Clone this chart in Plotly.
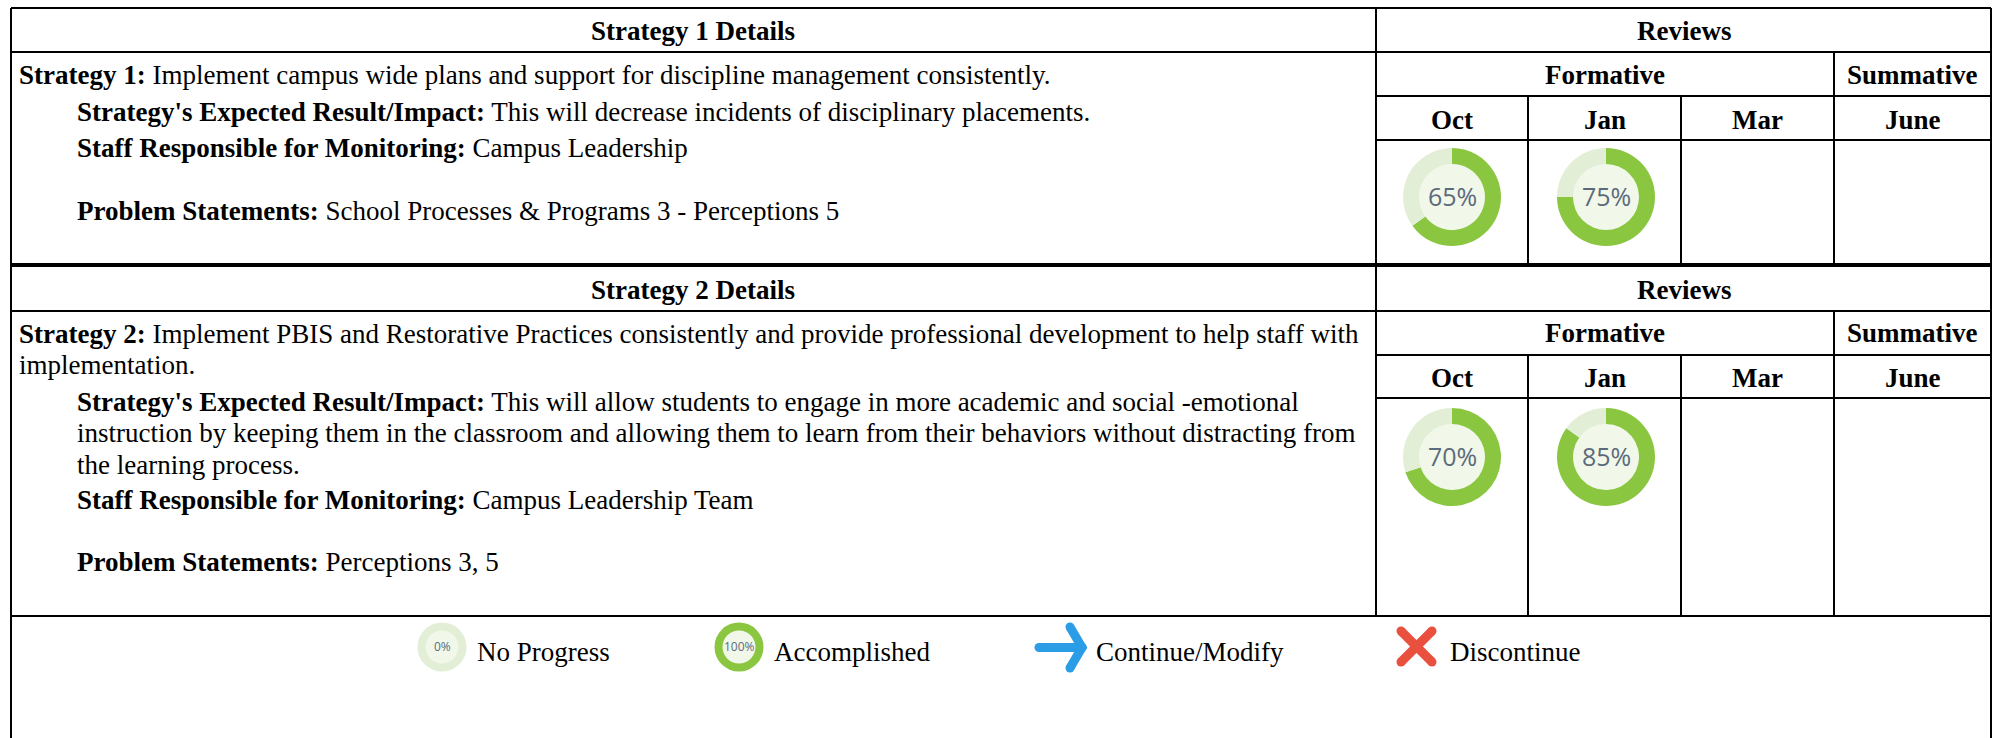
import plotly.graph_objects as go

# ---------- content ----------
months = ["Oct", "Jan", "Mar", "June"]
strategy1_progress = [65, 75]
strategy2_progress = [70, 85]
legend_progress = [0, 100]
legend_labels = ["No Progress", "Accomplished", "Continue/Modify", "Discontinue"]

strategy1_lines = [
    "<b>Strategy 1:</b> Implement campus wide plans and support for discipline management consistently.",
    "<b>Strategy's Expected Result/Impact:</b> This will decrease incidents of disciplinary placements.",
    "<b>Staff Responsible for Monitoring:</b> Campus Leadership",
    "<b>Problem Statements:</b> School Processes &amp; Programs 3 - Perceptions 5",
]
strategy2_lines = [
    "<b>Strategy 2:</b> Implement PBIS and Restorative Practices consistently and provide professional development to help staff with",
    "implementation.",
    "<b>Strategy's Expected Result/Impact:</b> This will allow students to engage in more academic and social -emotional",
    "instruction by keeping them in the classroom and allowing them to learn from their behaviors without distracting from",
    "the learning process.",
    "<b>Staff Responsible for Monitoring:</b> Campus Leadership Team",
    "<b>Problem Statements:</b> Perceptions 3, 5",
]

# ---------- layout constants ----------
W, H = 1993, 738
SERIF = "Liberation Serif"
FS = 27
GREEN, PALE, HOLE = "#8AC63F", "#E2EFD6", "#F1F8EA"
BLUE, RED = "#2B9CE6", "#E9503E"
L, R = 11, 1991
C0, C1, C2, C3 = 1376, 1528, 1681, 1834

hl = [  # y, x0, x1, width
    (8, L, R, 2), (52, L, R, 2), (96, C0, R, 2), (140, C0, R, 2), (265, L, R, 4),
    (311, L, R, 2), (355, C0, R, 2), (398, C0, R, 2), (616, L, R, 2),
]
vl = [  # x, y0, y1, width
    (L, 8, H, 2), (R, 8, H, 2), (C0, 8, 616, 2),
    (C1, 96, 265, 2), (C2, 96, 265, 2), (C3, 52, 265, 2),
    (C1, 355, 616, 2), (C2, 355, 616, 2), (C3, 311, 616, 2),
]

shapes, annotations, traces = [], [], []
for y, a, b, w in hl:
    shapes.append(dict(type="line", x0=a, x1=b, y0=y, y1=y, line=dict(color="black", width=w)))
for x, a, b, w in vl:
    shapes.append(dict(type="line", x0=x, x1=x, y0=a, y1=b, line=dict(color="black", width=w)))


def text(x, y, s, anchor="left", size=FS, family=SERIF, color="black"):
    annotations.append(dict(x=x, y=y, xref="x", yref="y", text=s, showarrow=False,
                            xanchor=anchor, yanchor="middle", align=anchor,
                            font=dict(family=family, size=size, color=color),
                            borderpad=0, borderwidth=0))


def donut(cx, cy, r_out, r_in, pct, size):
    shapes.append(dict(type="circle", x0=cx - r_in - 1, x1=cx + r_in + 1, y0=cy - r_in - 1, y1=cy + r_in + 1,
                       fillcolor=HOLE, line=dict(width=0), layer="below"))
    traces.append(go.Pie(values=[pct, 100 - pct], sort=False, direction="clockwise", rotation=0,
                         hole=r_in / r_out, textinfo="none", hoverinfo="skip", showlegend=False,
                         marker=dict(colors=[GREEN, PALE], line=dict(width=0)),
                         domain=dict(x=[(cx - r_out) / W, (cx + r_out) / W],
                                     y=[1 - (cy + r_out) / H, 1 - (cy - r_out) / H])))
    text(cx, cy - 1, f"{pct}%", "center", size, "Open Sans", "#5C6B7C")


# table headers
for n, top, row1, row2 in ((1, 31, 75, 120), (2, 290, 333, 378)):
    text((L + C0) / 2 - 1, top, f"<b>Strategy {n} Details</b>", "center")
    text((C0 + R) / 2, top, "<b>Reviews</b>", "center")
    text((C0 + C3) / 2, row1, "<b>Formative</b>", "center")
    text((C3 + R) / 2, row1, "<b>Summative</b>", "center")
    for m, a, b in zip(months, (C0, C1, C2, C3), (C1, C2, C3, R)):
        text((a + b) / 2, row2, f"<b>{m}</b>", "center")

# body text
for s, x, y in zip(strategy1_lines, (19, 77, 77, 77), (75, 112, 148, 211)):
    text(x, y, s)
for s, x, y in zip(strategy2_lines, (19, 19, 77, 77, 77, 77, 77), (334, 365, 402, 433, 465, 500, 562)):
    text(x, y, s)

# donuts
for p, cx in zip(strategy1_progress, (1452, 1606)):
    donut(cx, 197, 49, 33, p, 25)
for p, cx in zip(strategy2_progress, (1452, 1606)):
    donut(cx, 457, 49, 33, p, 25)
for p, cx in zip(legend_progress, (442, 739)):
    donut(cx, 647, 24.5, 16.5, p, 12)

# legend glyphs and labels
for s, x in zip(legend_labels, (477, 774, 1096, 1450)):
    text(x, 652, s)
arrow_color = dict(color=BLUE, width=9)
traces.append(go.Scatter(x=[1039, 1082], y=[647.5, 647.5], mode="lines+markers", line=arrow_color,
                         marker=dict(size=9, color=BLUE), hoverinfo="skip", showlegend=False))
traces.append(go.Scatter(x=[1070, 1082, 1070], y=[627, 647.5, 668], mode="lines+markers", line=arrow_color,
                         marker=dict(size=9, color=BLUE), hoverinfo="skip", showlegend=False))
for ys in ([631, 662], [662, 631]):
    traces.append(go.Scatter(x=[1401, 1432], y=ys, mode="lines+markers", line=dict(color=RED, width=9),
                             marker=dict(size=9, color=RED), hoverinfo="skip", showlegend=False))

fig = go.Figure(traces)
hidden = dict(visible=False, fixedrange=True)
fig.update_layout(
    width=W, height=H, margin=dict(l=0, r=0, t=0, b=0),
    paper_bgcolor="white", plot_bgcolor="white",
    xaxis=dict(range=[0, W], domain=[0, 1], **hidden),
    yaxis=dict(range=[H, 0], domain=[0, 1], **hidden),
    shapes=shapes, annotations=annotations, showlegend=False,
)
fig.write_html("out.html", config=dict(displayModeBar=False),
               post_script="document.body.style.margin='0';document.body.style.overflow='hidden';")
